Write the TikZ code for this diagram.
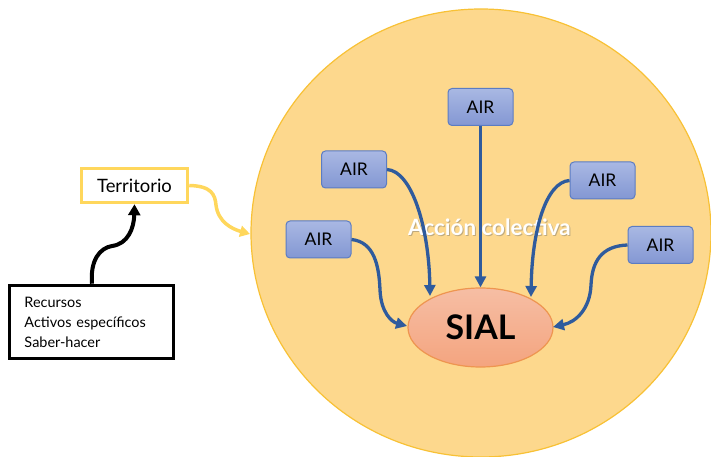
\documentclass[tikz,border=0pt]{standalone}
\usepackage{fontspec}
\setmainfont{Lato}
\usetikzlibrary{arrows.meta,shapes.geometric}
\definecolor{discfill}{HTML}{FDD88D}
\definecolor{discline}{HTML}{F8C135}
\definecolor{airtop}{HTML}{A9B8E3}
\definecolor{airbot}{HTML}{8397D3}
\definecolor{airline}{HTML}{5B7CC3}
\definecolor{flow}{HTML}{2F5B9D}
\definecolor{sialtop}{HTML}{F6BEA4}
\definecolor{sialbot}{HTML}{F4A47F}
\definecolor{sialline}{HTML}{EE9550}
\definecolor{terrline}{HTML}{FFD75C}
\tikzset{
  airbox/.style={rectangle, rounded corners=4bp, draw=airline, line width=1bp,
    top color=airtop, bottom color=airbot, minimum width=65bp, minimum height=37bp,
    inner sep=0pt, font=\fontsize{17.5}{20}\selectfont},
  flowarrow/.style={draw=flow, line width=3.3bp, -{Triangle[length=11bp,width=11bp]}},
}
\begin{document}
\begin{tikzpicture}[x=1bp,y=-1bp]
\useasboundingbox (0,0) rectangle (711,457);
% territory disc
\path[fill=discfill, draw=discline, line width=1.2bp] (481,233) ellipse [x radius=230, y radius=224];

% inner elements
\node[airbox] (a1) at (480.5,107) {AIR};
\node[airbox] (a2) at (354,169.5) {AIR};
\node[airbox] (a3) at (318.5,239.5) {AIR};
\node[airbox] (a4) at (602.5,180.5) {AIR};
\node[airbox] (a5) at (660.5,245) {AIR};

\node[ellipse, draw=sialline, line width=1.2bp, top color=sialtop, bottom color=sialbot,
  minimum width=145bp, minimum height=79bp, inner sep=0pt,
  font=\fontsize{34}{40}\selectfont\bfseries] (sial) at (480.5,327.5) {SIAL};

% label with soft shadow
\node[text=black!60, opacity=0.4, font=\fontsize{22.5}{26}\selectfont\bfseries] (shadow) at (490.5,228.5) {Acción colectiva};
\node[text=white, font=\fontsize{22.5}{26}\selectfont\bfseries] (accion) at (489.5,227) {Acción colectiva};

% flows into SIAL
\coordinate (t2) at (430,296);
\coordinate (t3) at (407,326);
\coordinate (t4) at (531,297);
\coordinate (t5) at (553,327);
\draw[flowarrow] (a1.south) -- (sial.north);
\draw[flowarrow] (a2.east) .. controls (412,171) and (429,228) .. (t2);
\draw[flowarrow] (a3.east) .. controls (374,242) and (379,265) .. (380,290)
  .. controls (381,313) and (392,322) .. (t3);
\draw[flowarrow] (a4.west) .. controls (546,182) and (532,230) .. (t4);
\draw[flowarrow] (a5.west) .. controls (601,246) and (592,262) .. (591,285)
  .. controls (590,309) and (576,322) .. (t5);

% territory and its resources
\node[rectangle, draw=terrline, line width=3.5bp, minimum width=106bp, minimum height=34bp,
  inner sep=0pt, font=\fontsize{18.5}{22}\selectfont] (terr) at (134.5,185.5) {Territorio};
\node[rectangle, draw=black, line width=3.6bp, minimum width=164bp, minimum height=73bp,
  text width=134bp, inner xsep=15bp, inner ysep=0pt, align=left,
  font=\fontsize{14.5}{20}\selectfont] (rec) at (91.5,322)
  {Recursos\\Activos específicos\\Saber-hacer};

\coordinate (disc) at (250,234);
\draw[draw=terrline, line width=3.5bp, -{Triangle[length=10bp,width=11bp]}]
  (terr.east) .. controls (212,186) and (215,195) .. (216,205)
  .. controls (218,222) and (232,229) .. (disc);
\draw[draw=black, line width=4bp, -{Triangle[length=11bp,width=12bp]}]
  (rec.north -| 92,0) .. controls (90,260) and (100,248) .. (112,246)
  .. controls (128,244) and (134,228) .. (terr.south);
\end{tikzpicture}
\end{document}
